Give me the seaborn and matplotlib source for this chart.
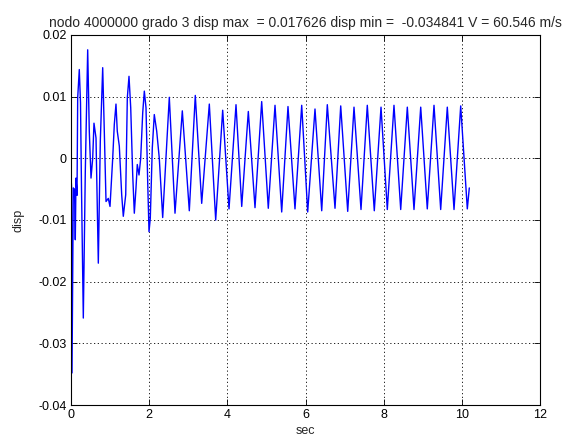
import matplotlib
matplotlib.use("Agg")
import matplotlib.pyplot as plt
import seaborn as sns
import pandas as pd

# time (s) and displacement values
sec = [0.000, 0.013, 0.026, 0.059, 0.090, 0.110, 0.128, 0.154, 0.171, 0.212, 0.243, 0.269,
       0.315, 0.366, 0.427, 0.468, 0.512, 0.555, 0.588, 0.640, 0.699, 0.750, 0.811, 0.852,
       0.896, 0.954, 0.998, 1.067, 1.108, 1.151, 1.184, 1.236, 1.297, 1.338, 1.400, 1.441,
       1.484, 1.528, 1.579, 1.620, 1.663, 1.696, 1.740, 1.783, 1.835, 1.876, 1.919, 1.962,
       1.996, 2.029, 2.080, 2.131, 2.193, 2.259,
       2.346, 2.515, 2.661, 2.848, 3.027, 3.180, 3.344, 3.539, 3.702, 3.881, 4.043, 4.222,
       4.368, 4.537, 4.708, 4.879, 5.048, 5.220, 5.391, 5.552, 5.731, 5.903, 6.056, 6.243,
       6.415, 6.558, 6.755, 6.901, 7.080, 7.241, 7.420, 7.581, 7.760, 7.932, 8.093, 8.264,
       8.436, 8.605, 8.776, 8.948, 9.116, 9.288, 9.459, 9.628, 9.800, 9.971, 10.140, 10.191]
disp = [-0.0030, -0.0045, -0.0348, -0.0048, -0.0050, -0.0132, -0.0032, -0.0060, 0.0098, 0.0144, 0.0090, -0.0050,
        -0.0259, -0.0021, 0.0176, 0.0044, -0.0032, 0.0000, 0.0057, 0.0033, -0.0170, 0.0028, 0.0147, 0.0044,
        -0.0070, -0.0065, -0.0078, 0.0000, 0.0055, 0.0088, 0.0044, 0.0020, -0.0059, -0.0094, -0.0059, 0.0098,
        0.0133, 0.0082, -0.0027, -0.0089, -0.0048, -0.0010, -0.0027, 0.0000, 0.0074, 0.0109, 0.0082, -0.0037,
        -0.0119, -0.0097, 0.0017, 0.0071, 0.0044, 0.0000,
        -0.0096, 0.0099, -0.0089, 0.0077, -0.0085, 0.0102, -0.0073, 0.0088, -0.0100, 0.0078, -0.0082, 0.0087,
        -0.0078, 0.0076, -0.0080, 0.0092, -0.0081, 0.0086, -0.0087, 0.0084, -0.0082, 0.0086, -0.0087, 0.0080,
        -0.0085, 0.0087, -0.0081, 0.0085, -0.0086, 0.0083, -0.0083, 0.0086, -0.0085, 0.0083, -0.0083, 0.0086,
        -0.0083, 0.0083, -0.0083, 0.0083, -0.0082, 0.0086, -0.0083, 0.0083, -0.0083, 0.0085, -0.0082, -0.0048]

x_ticks = [0, 2, 4, 6, 8, 10, 12]
y_ticks = [-0.04, -0.03, -0.02, -0.01, 0, 0.01, 0.02]
y_tick_labels = ["-0.04", "-0.03", "-0.02", "-0.01", "0", "0.01", "0.02"]
title = "nodo 4000000 grado 3 disp max  = 0.017626 disp min =  -0.034841 V = 60.546 m/s"

sns.set_style("white")
plt.rcParams["font.family"] = ["Liberation Sans", "DejaVu Sans"]

fig = plt.figure(figsize=(5.71, 4.40), dpi=100)
ax = fig.add_axes([71 / 571, 35 / 440, (540 - 71) / 571, (405 - 35) / 440])

df = pd.DataFrame({"sec": sec, "disp": disp})
sns.lineplot(data=df, x="sec", y="disp", ax=ax, color="#0000ff", linewidth=1.0,
             estimator=None, sort=False)
ax.lines[0].set_solid_joinstyle("round")

ax.set_xlim(0, 12)
ax.set_ylim(-0.04, 0.02)
ax.set_xticks(x_ticks)
ax.set_xticklabels([str(v) for v in x_ticks])
ax.set_yticks(y_ticks)
ax.set_yticklabels(y_tick_labels)
ax.grid(True, color="black", linestyle=(0, (1.5, 3)), linewidth=0.6)
ax.tick_params(direction="in", length=4, width=0.6, labelsize=9, colors="black",
               top=True, right=True, bottom=True, left=True, pad=3)
for s in ax.spines.values():
    s.set_visible(True)
    s.set_color("black")
    s.set_linewidth(0.8)
ax.set_xlabel("sec", fontsize=9, labelpad=3)
ax.set_ylabel("disp", fontsize=9, labelpad=10)
ax.set_title(title, fontsize=10, pad=6)

fig.savefig("out.png", dpi=100)
